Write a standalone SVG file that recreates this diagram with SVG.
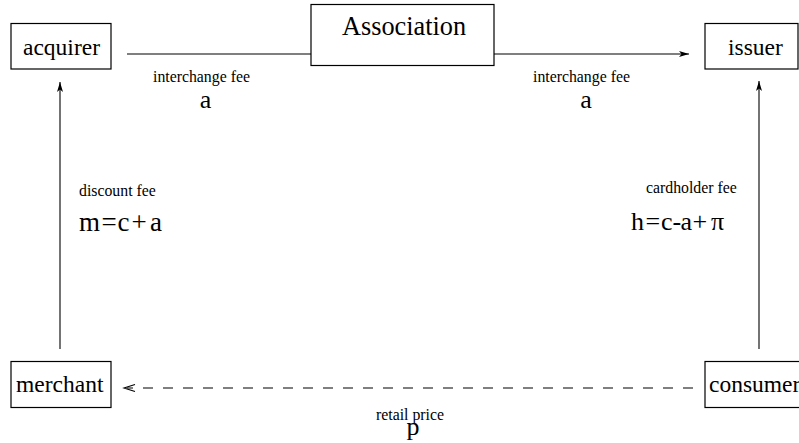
<svg xmlns="http://www.w3.org/2000/svg" width="799" height="443" viewBox="0 0 799 443">
<style>
text{font-family:'Liberation Serif','Times New Roman',Times,serif;fill:#000}
.box{fill:#fff;stroke:#000;stroke-width:1.2}
.node{font-size:23.5px}
.lbl{font-size:15.8px}
.math{font-size:26px}
.eq{font-size:27px}
.ln{stroke:#000;stroke-width:1.1;fill:none}
</style>
<defs>
<marker id="ah" markerUnits="userSpaceOnUse" markerWidth="12" markerHeight="8" refX="10" refY="3" orient="auto">
<path d="M0,0 L10,3 L0,6 L2.5,3 Z" fill="#000"/>
</marker>
</defs>
<rect width="799" height="443" fill="#fff"/>
<g id="connectors">
<line class="ln" x1="127" y1="54" x2="689" y2="54" marker-end="url(#ah)"/>
<line class="ln" x1="60" y1="349" x2="60" y2="82" marker-end="url(#ah)"/>
<line class="ln" x1="759" y1="349" x2="759" y2="81" marker-end="url(#ah)"/>
<line class="ln" x1="693" y1="388" x2="127" y2="388" stroke-dasharray="10 10"/>
<polyline class="ln" points="135,384.5 124,388 135,391.5"/>
</g>
<g id="association">
<rect class="box" x="311" y="4.5" width="183" height="61"/>
<text class="node" x="342" y="35" style="font-size:26.3px">Association</text>
</g>
<g id="acquirer">
<rect class="box" x="11" y="23.5" width="100" height="45.5"/>
<text class="node" x="23" y="55">acquirer</text>
</g>
<g id="issuer">
<rect class="box" x="705" y="23.5" width="93" height="45.5"/>
<text class="node" x="728" y="55">issuer</text>
</g>
<g id="merchant">
<rect class="box" x="11" y="361.5" width="100" height="46"/>
<text class="node" x="16" y="392">merchant</text>
</g>
<g id="consumer">
<rect class="box" x="705" y="361.5" width="110" height="46"/>
<text class="node" x="709" y="392">consumer</text>
</g>
<g id="labels">
<text class="lbl" x="153" y="82">interchange fee</text>
<text class="math" x="205.5" y="108" text-anchor="middle">a</text>
<text class="lbl" x="533" y="82">interchange fee</text>
<text class="math" x="586" y="108" text-anchor="middle">a</text>
<text class="lbl" x="79" y="196">discount fee</text>
<text class="eq" x="79 101.5 117.5 131.5 150" y="231">m=c+a</text>
<text class="lbl" x="646" y="193">cardholder fee</text>
<text class="math" x="631 645.5 661 672.5 680.5 692.5 711" y="230">h=c-a+π</text>
<text class="lbl" x="376" y="419.5">retail price</text>
<text class="math" x="413" y="435" text-anchor="middle">p</text>
</g>
</svg>
